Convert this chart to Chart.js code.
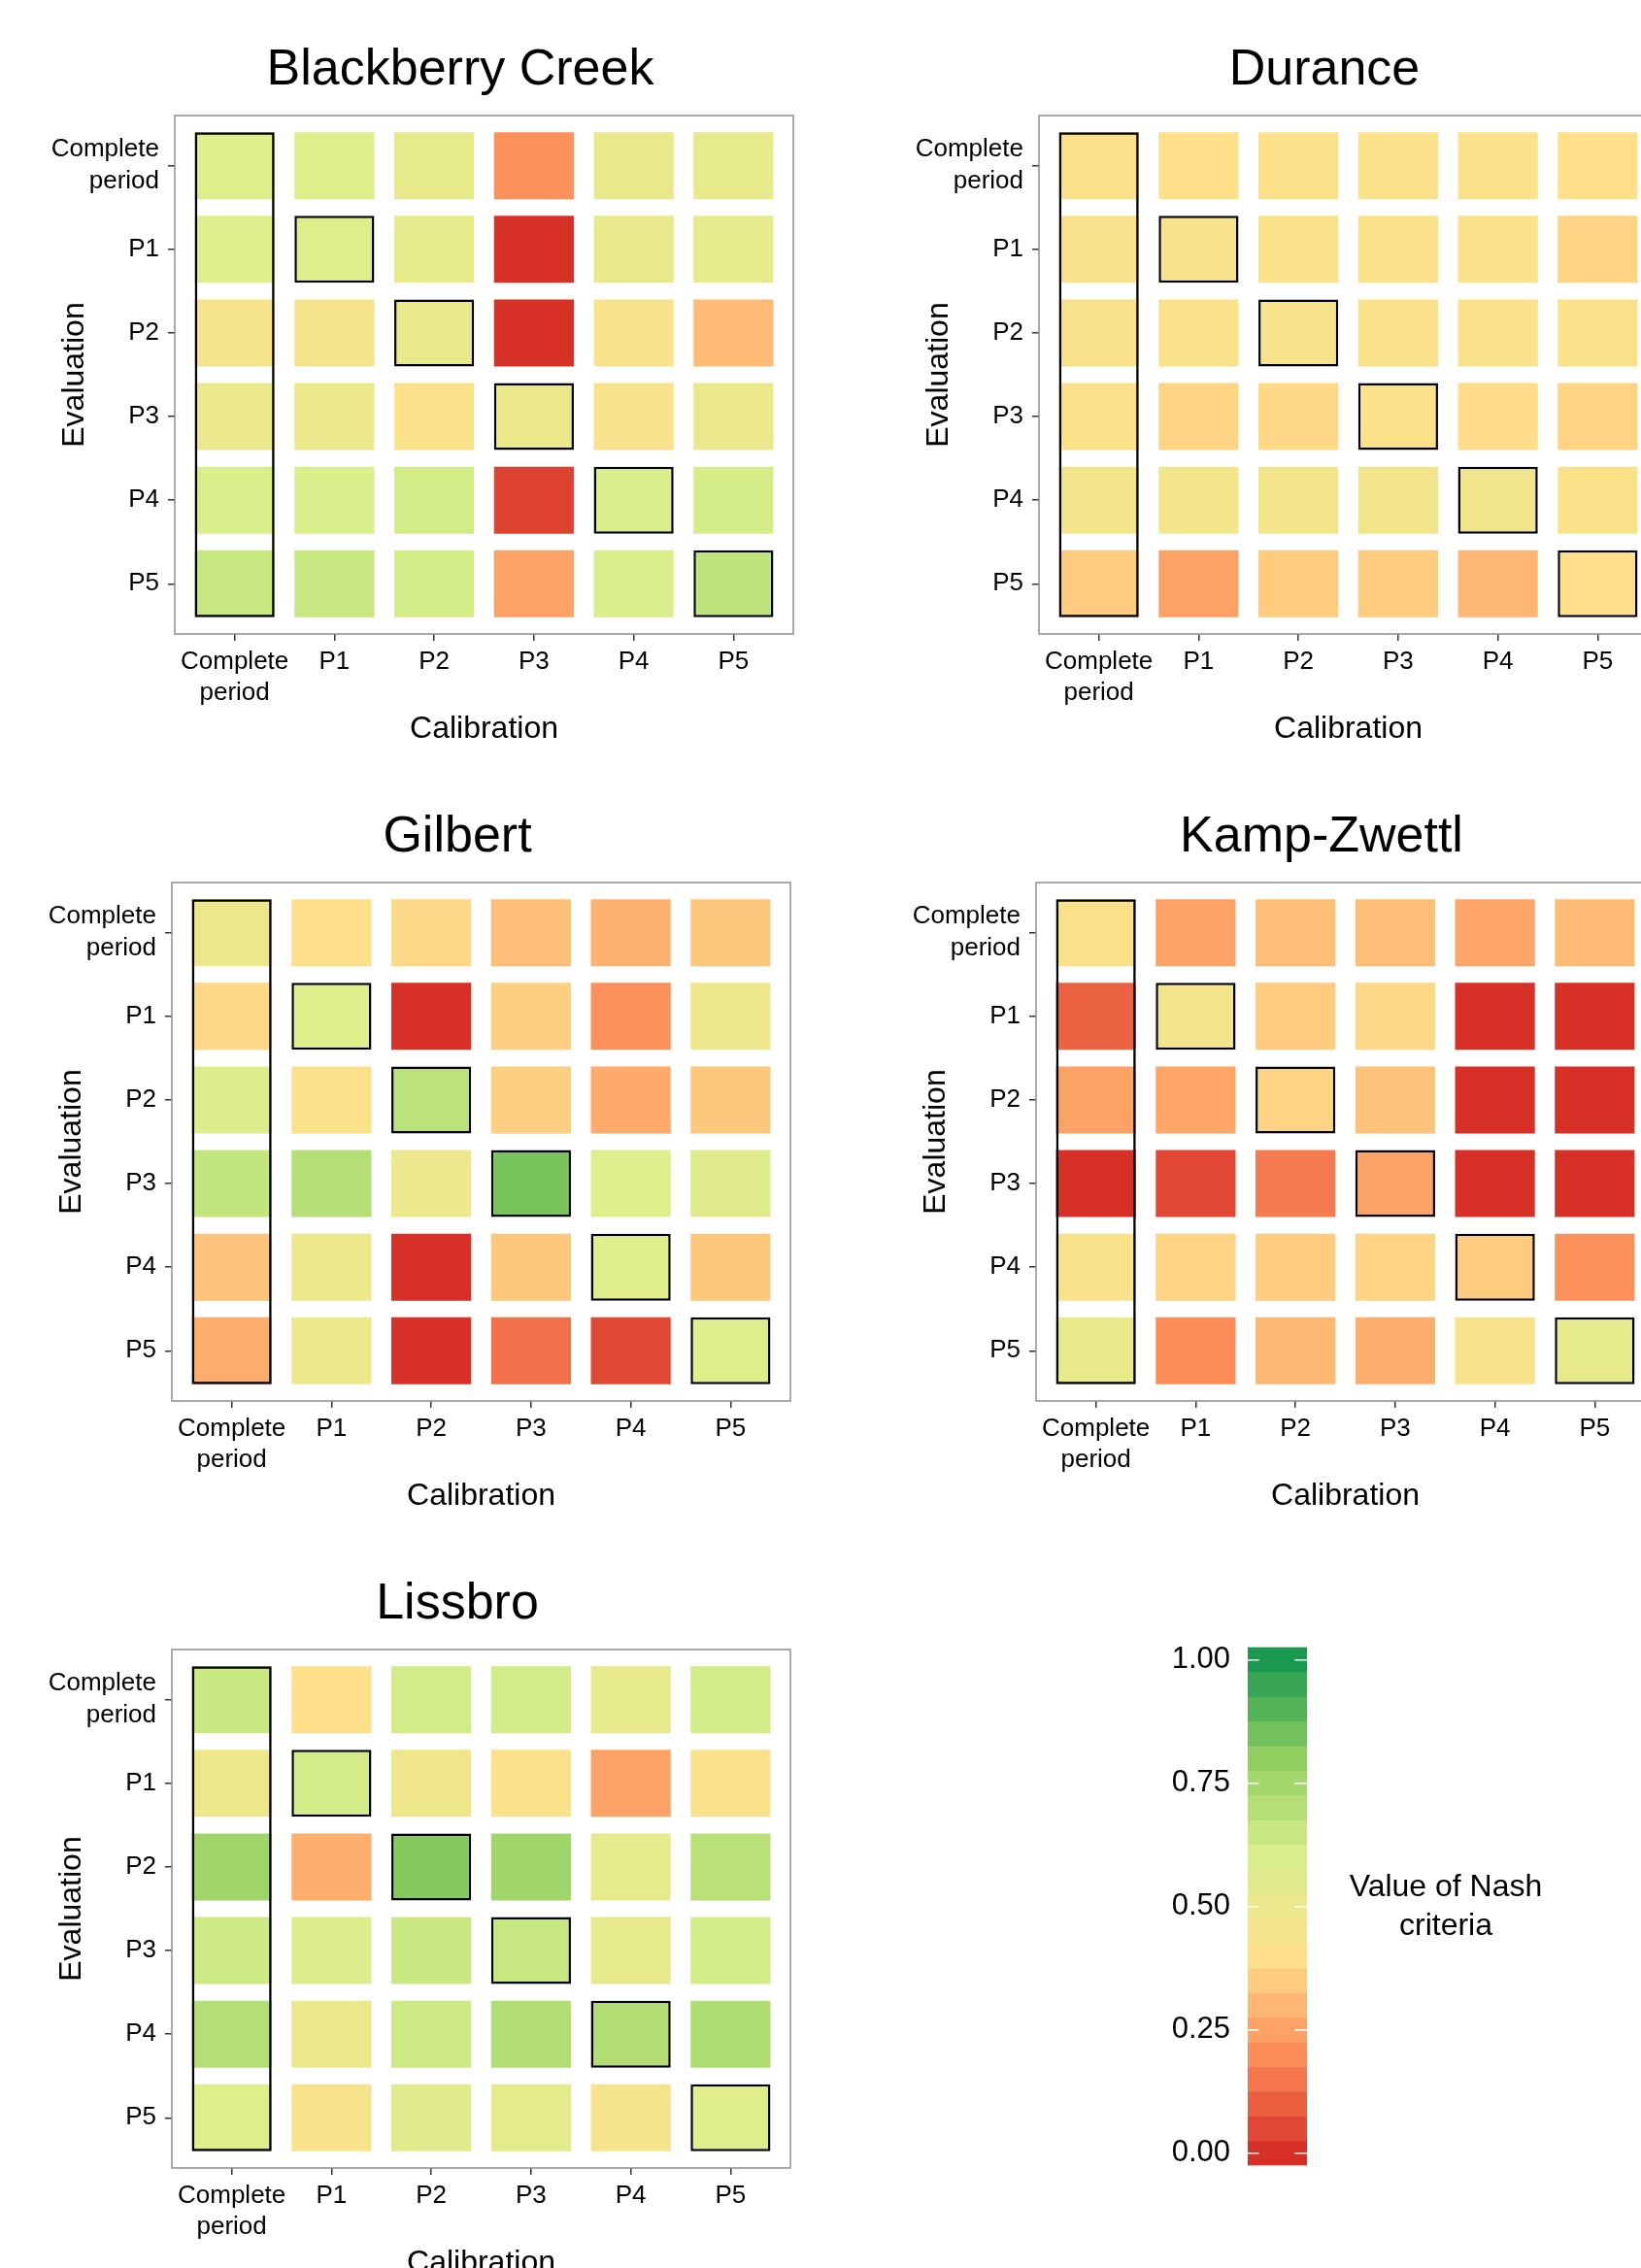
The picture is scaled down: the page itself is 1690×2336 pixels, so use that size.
<!DOCTYPE html>
<html>
<head>
<meta charset="utf-8">
<script src="https://cdn.jsdelivr.net/npm/chart.js@4.4.1/dist/chart.umd.min.js"></script>
<style>
  html, body { margin: 0; padding: 0; background: #fff; }
  body { width: 1690px; height: 2336px; overflow: hidden; position: relative;
         font-family: 'Liberation Sans', Arial, sans-serif; color: #000; }
  .panel { position: absolute; width: 890px; height: 790px; }
  .panel canvas { position: absolute; left: 0; top: 0; }
  .panel-title { position: absolute; left: 0; top: 43px; width: 948px; text-align: center;
                 font-size: 52px; line-height: 52px; white-space: nowrap; }
  #legend { position: absolute; left: 1150px; top: 1660px; width: 540px; height: 620px; }
  #legend-title { position: absolute; left: 1289px; top: 1922px; width: 400px; text-align: center;
                  font-size: 32px; line-height: 40px; }
</style>
</head>
<body>
<canvas id="legend" width="540" height="620"></canvas>
<div id="legend-title">Value of Nash<br>criteria</div>
<script>
const periodLabels = [['Complete', 'period'], 'P1', 'P2', 'P3', 'P4', 'P5'];
const basinNames = ['Blackberry Creek', 'Durance', 'Gilbert', 'Kamp-Zwettl', 'Lissbro'];

// Nash values : rows = evaluation period, columns = calibration period
const nashBlackberry = [
  [0.57, 0.57, 0.53, 0.21, 0.52, 0.53],
  [0.58, 0.58, 0.53, 0.00, 0.52, 0.53],
  [0.45, 0.45, 0.52, 0.00, 0.44, 0.31],
  [0.50, 0.50, 0.41, 0.51, 0.43, 0.51],
  [0.60, 0.60, 0.62, 0.04, 0.60, 0.61],
  [0.65, 0.65, 0.61, 0.25, 0.60, 0.67]
];
const nashDurance = [
  [0.41, 0.40, 0.41, 0.41, 0.41, 0.40],
  [0.43, 0.44, 0.42, 0.42, 0.42, 0.37],
  [0.43, 0.42, 0.44, 0.42, 0.42, 0.42],
  [0.41, 0.37, 0.38, 0.41, 0.39, 0.37],
  [0.46, 0.46, 0.46, 0.46, 0.47, 0.42],
  [0.35, 0.25, 0.35, 0.35, 0.30, 0.40]
];
const nashGilbert = [
  [0.50, 0.40, 0.38, 0.32, 0.29, 0.34],
  [0.38, 0.58, 0.00, 0.36, 0.21, 0.50],
  [0.59, 0.41, 0.68, 0.36, 0.27, 0.34],
  [0.66, 0.70, 0.50, 0.84, 0.58, 0.56],
  [0.33, 0.50, 0.00, 0.34, 0.57, 0.34],
  [0.28, 0.50, 0.00, 0.14, 0.05, 0.57]
];
const nashKamp = [
  [0.41, 0.25, 0.32, 0.32, 0.26, 0.31],
  [0.11, 0.46, 0.35, 0.38, 0.00, 0.00],
  [0.25, 0.26, 0.37, 0.33, 0.00, 0.00],
  [0.00, 0.05, 0.16, 0.25, 0.00, 0.00],
  [0.43, 0.37, 0.35, 0.37, 0.35, 0.21],
  [0.52, 0.20, 0.30, 0.28, 0.43, 0.53]
];
const nashLissbro = [
  [0.64, 0.40, 0.62, 0.62, 0.53, 0.62],
  [0.49, 0.62, 0.48, 0.41, 0.25, 0.41],
  [0.76, 0.28, 0.82, 0.76, 0.53, 0.69],
  [0.63, 0.59, 0.64, 0.65, 0.53, 0.62],
  [0.70, 0.49, 0.63, 0.71, 0.71, 0.72],
  [0.58, 0.44, 0.55, 0.54, 0.45, 0.57]
];

const legendTicks = [0, 0.25, 0.5, 0.75, 1];
const legendSteps = [0, 0.05, 0.1, 0.15, 0.2, 0.25, 0.3, 0.35, 0.4, 0.45, 0.5,
                     0.55, 0.6, 0.65, 0.7, 0.75, 0.8, 0.85, 0.9, 0.95, 1];
const paletteStops = ['#d73027', '#fc8d59', '#fee08b', '#d9ef8b', '#91cf60', '#1a9850'];

Chart.defaults.font.family = "'Liberation Sans', Arial, sans-serif";
Chart.defaults.color = '#000';

const paletteRgb = paletteStops.map(h => [1, 3, 5].map(i => parseInt(h.slice(i, i + 2), 16)));

function nashColor(v) {
  const t = Math.min(1, Math.max(0, v)) * (paletteRgb.length - 1);
  const i = Math.min(Math.floor(t), paletteRgb.length - 2);
  const f = t - i;
  const a = paletteRgb[i], b = paletteRgb[i + 1];
  const c = a.map((x, k) => Math.round(x + (b[k] - x) * f));
  return `rgb(${c.join(',')})`;
}

// grey frame round the plotting area
const boxBorder = {
  id: 'boxBorder',
  beforeDatasetsDraw(chart) {
    const { ctx, chartArea: a } = chart;
    ctx.save();
    ctx.strokeStyle = '#8e8e8e';
    ctx.lineWidth = 1.5;
    ctx.strokeRect(a.left, a.top, a.right - a.left, a.bottom - a.top);
    ctx.restore();
  }
};

const tickGrid = {
  display: true, drawOnChartArea: false, drawTicks: true, offset: false,
  tickLength: 7, tickColor: '#333', tickWidth: 1.5, lineWidth: 1.5
};
const tickFont = { size: 26, lineHeight: 1.26 };
const tickPositions = s => { s.ticks = periodLabels.map((_, i) => ({ value: i + 1 })); };
const tickText = v => periodLabels[Math.round(v) - 1];

const panels = [
  { name: basinNames[0], values: nashBlackberry, col: 0, row: 0 },
  { name: basinNames[1], values: nashDurance,    col: 1, row: 0 },
  { name: basinNames[2], values: nashGilbert,    col: 0, row: 1 },
  { name: basinNames[3], values: nashKamp,       col: 1, row: 1 },
  { name: basinNames[4], values: nashLissbro,    col: 0, row: 2 }
];

panels.forEach(p => {
  const wrap = document.createElement('div');
  wrap.className = 'panel';
  wrap.style.left = (p.col * 890 - (p.row > 0 ? 3 : 0)) + 'px';
  wrap.style.top = (p.row * 790) + 'px';
  const canvas = document.createElement('canvas');
  canvas.width = 890;
  canvas.height = 790;
  const title = document.createElement('div');
  title.className = 'panel-title';
  title.textContent = p.name;
  wrap.appendChild(canvas);
  wrap.appendChild(title);
  document.body.appendChild(wrap);

  const tiles = p.values.map((row, r) => ({
    data: row.map((v, c) => ({ x: c + 1, y: [r + 1 - 0.4, r + 1 + 0.4] })),
    backgroundColor: row.map(nashColor),
    borderColor: '#000',
    borderWidth: row.map((v, c) => (c === r && c > 0) ? 2.5 : 0),
    borderSkipped: false,
    grouped: false,
    barPercentage: 1,
    categoryPercentage: 0.8,
    order: 1
  }));

  // frame round the "Complete period" calibration column
  const outline = {
    data: [{ x: 1, y: [1 - 0.4, periodLabels.length + 0.4] }],
    backgroundColor: 'rgba(0,0,0,0)',
    borderColor: '#000',
    borderWidth: 2.5,
    borderSkipped: false,
    grouped: false,
    barPercentage: 1,
    categoryPercentage: 0.8,
    order: 0
  };

  new Chart(canvas, {
    type: 'bar',
    data: { datasets: [outline, ...tiles] },
    plugins: [boxBorder],
    options: {
      responsive: false,
      animation: false,
      events: [],
      layout: { padding: { top: 119, right: 73, bottom: 0, left: 0 } },
      plugins: { legend: { display: false }, tooltip: { enabled: false } },
      scales: {
        x: {
          type: 'linear', min: 0.4, max: 6.6, offset: false,
          afterBuildTicks: tickPositions,
          afterFit: s => { s.height = 137; },
          ticks: { autoSkip: false, maxRotation: 0, padding: 5, color: '#000', font: tickFont, callback: tickText },
          grid: tickGrid,
          border: { display: false },
          title: { display: true, text: 'Calibration', color: '#000', font: { size: 32 }, padding: { top: 0, bottom: 20 } }
        },
        y: {
          type: 'linear', min: 0.4, max: 6.6, reverse: true,
          afterBuildTicks: tickPositions,
          afterFit: s => { s.width = 180; },
          ticks: { autoSkip: false, padding: 9, color: '#000', font: tickFont, callback: tickText },
          grid: tickGrid,
          border: { display: false },
          title: { display: true, text: 'Evaluation', color: '#000', font: { size: 32 }, padding: { top: 58, bottom: 0 } }
        }
      }
    }
  });
});

// colour bar
new Chart(document.getElementById('legend'), {
  type: 'bar',
  data: {
    labels: ['Nash'],
    datasets: [{
      data: legendSteps.map(v => ({ x: 'Nash', y: [v - 0.025, v + 0.025] })),
      backgroundColor: legendSteps.map(nashColor),
      borderWidth: 0,
      grouped: false,
      barPercentage: 1,
      categoryPercentage: 1
    }]
  },
  options: {
    responsive: false,
    animation: false,
    events: [],
    layout: { padding: { top: 35, right: 344, bottom: 49.5, left: 0 } },
    plugins: { legend: { display: false }, tooltip: { enabled: false } },
    scales: {
      x: { type: 'category', display: false },
      y: {
        type: 'linear', min: -0.025, max: 1.025,
        afterBuildTicks: s => { s.ticks = legendTicks.map(v => ({ value: v })); },
        afterFit: s => { s.width = 135; },
        ticks: { padding: 18, color: '#000', font: { size: 31 }, callback: v => v.toFixed(2) },
        grid: { color: '#fff', lineWidth: 1.5, drawTicks: false, z: 1 },
        border: { display: false, dash: [11.5, 37, 12.5] }
      }
    }
  }
});
</script>
</body>
</html>
